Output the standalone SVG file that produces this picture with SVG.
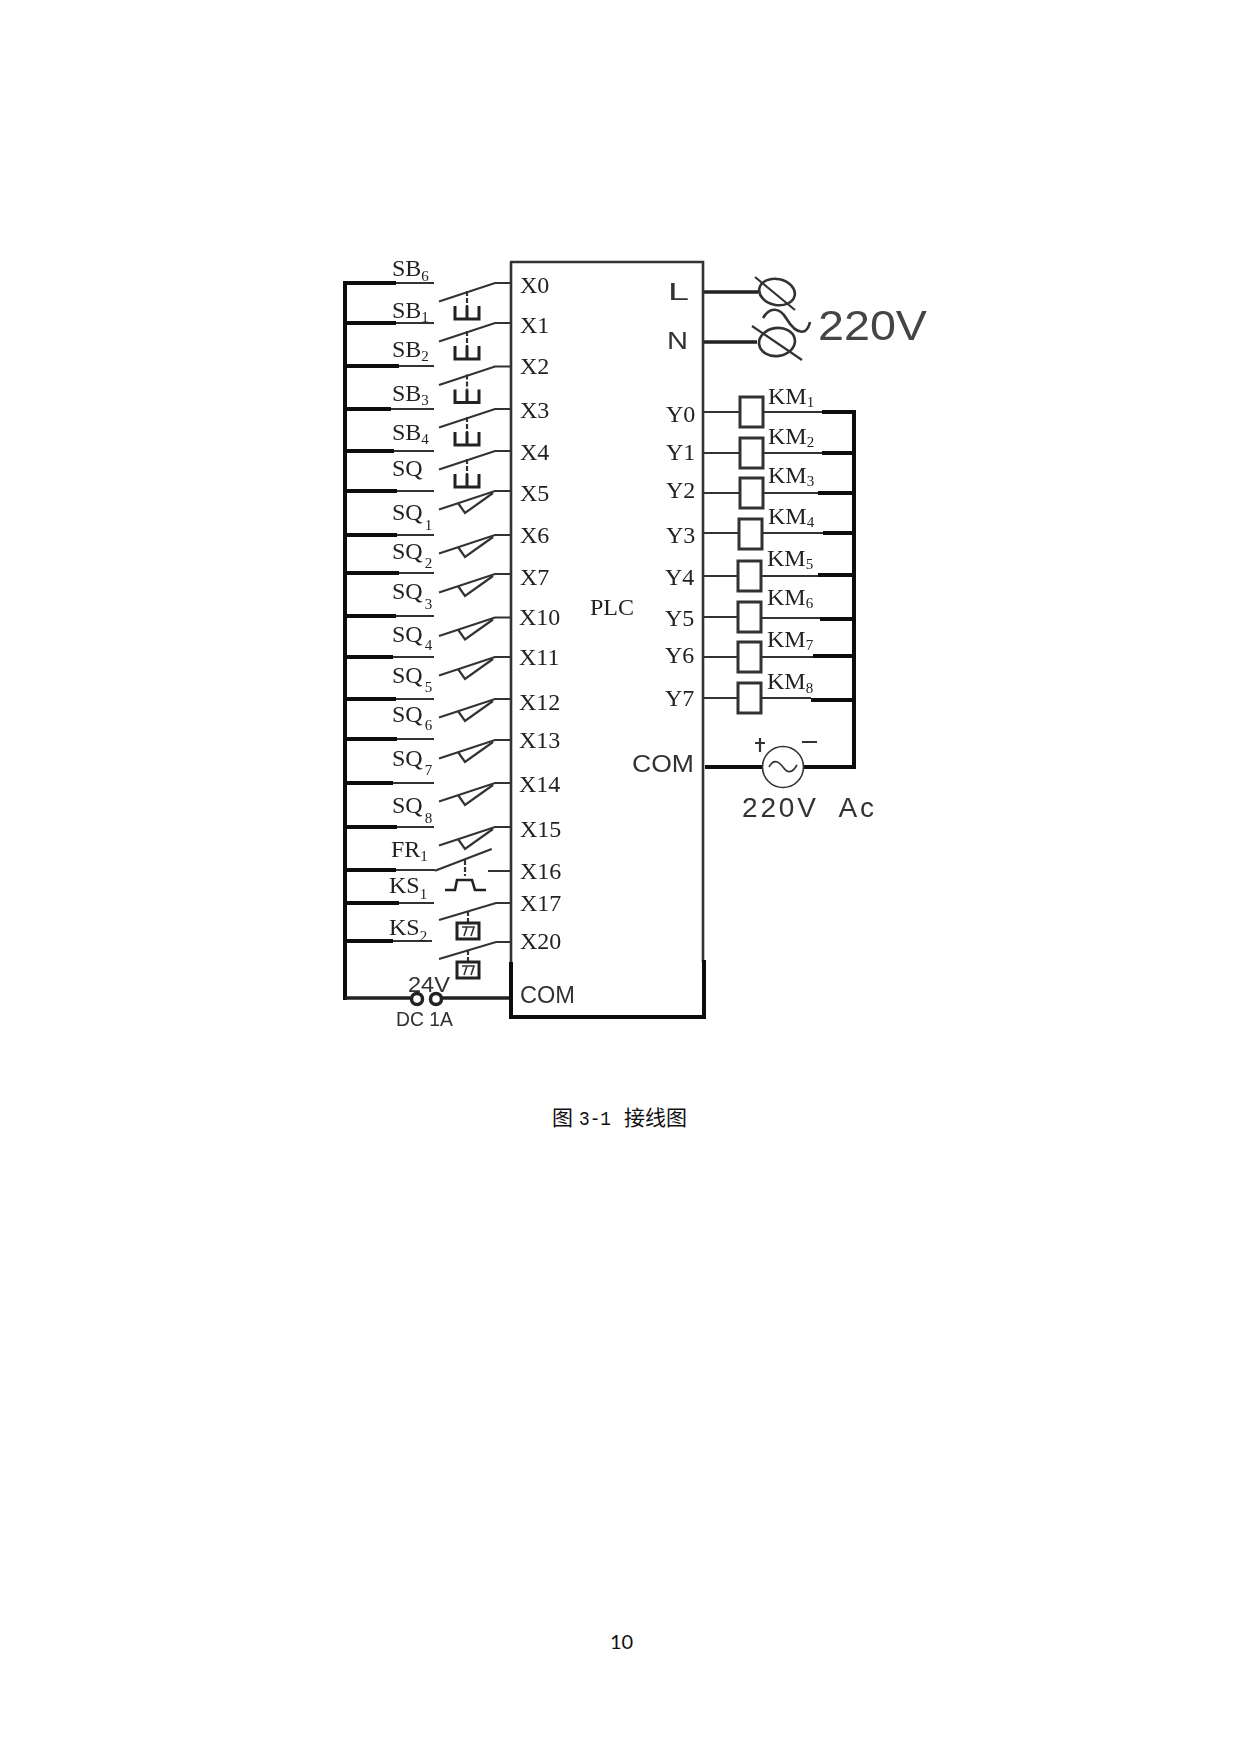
<svg xmlns="http://www.w3.org/2000/svg" width="1241" height="1754" viewBox="0 0 1241 1754">
<style>
text{fill:#222}
.t{font-family:"Liberation Serif","Times New Roman",serif;font-size:24px}
.h{font-family:"Liberation Sans",Arial,sans-serif;font-size:24px;fill:#333}
.u{font-size:15px}
.thin{fill:none;stroke:#333;stroke-width:2.2}
.bold{fill:none;stroke:#222;stroke-width:3}
.fine{fill:none;stroke:#333;stroke-width:1.6}
.thick{fill:none;stroke:#111;stroke-width:4}
.mid{fill:none;stroke:#222;stroke-width:3.4}
.coil{fill:#fff;stroke:#333;stroke-width:3}
.dash{stroke-dasharray:5 2}
</style>
<defs>
<filter id="soft" x="0" y="0" width="100%" height="100%"><feGaussianBlur stdDeviation="0.45"/></filter>
<g id="btn"><polyline class="thin" points="439,18.5 495,0 511,0"/><path class="thin dash" d="M467,8V23"/><path class="bold" d="M455,23V36H479V23M467,23V36"/></g>
<g id="sq"><polyline class="thin" points="439,18.5 495,0 511,0"/><polyline class="thin" points="458,12 465,22 493,2"/></g>
<g id="therm"><polyline class="thin" points="439,17 496,0 511,0"/><path class="thin dash" d="M468,8V19"/><rect class="bold" x="457" y="20" width="22" height="16"/><path class="fine" d="M462,24H474L471,33M467,24L464,33"/></g>
</defs>
<rect width="1241" height="1754" fill="#fff"/>
<g id="diagram" filter="url(#soft)">
<g id="connectors">
<path class="thick" d="M345,281V1000M343,283H396M345,323H396M345,366H399M345,409H391M345,451H394M345,491H397M345,535H397M345,573H399M345,616H396M345,657H393M345,699H396M345,739H397M345,783H393M345,827H397M345,870H396M345,903H399M345,941H393"/>
<path class="thin" d="M396,283H434M396,323H434M399,366H434M391,409H434M394,451H434M397,491H434M397,535H434M399,573H434M396,616H434M393,657H434M396,699H434M397,739H434M393,783H434M397,827H434M396,870H435M399,903H434M393,941H432"/>
<path class="mid" d="M345,998H411M442,998H511"/>
<path class="mid" d="M704,292H758M704,342H757"/>
<path class="thin" d="M704,412H740M704,453H740M703,493H740M703,533H739M702,576H738M702,617H738M702,657H738M702,698H738"/>
<path class="thin" d="M763,412H822M763,453H822M763,493H818M763,533H823M762,576H818M762,618H820M762,657H813M762,698H811"/>
<path class="thick" d="M822,412H854M822,453H854M818,493H854M823,533H854M818,575H854M820,619H854M813,656H854M811,700H854"/>
<path class="thick" d="M854,410V769M705,767H763M803,767H856"/>
</g>
<g id="plc">
<path class="thin" style="stroke-width:2.6" d="M510,262H703V962M511,262V964"/>
<path class="thick" d="M511,962V1017H704V960M509,1017H706"/>
<text class="t" x="590" y="615">PLC</text>
<text class="t" x="520" y="293">X0</text>
<text class="t" x="520" y="333">X1</text>
<text class="t" x="520" y="374">X2</text>
<text class="t" x="520" y="418">X3</text>
<text class="t" x="520" y="460">X4</text>
<text class="t" x="520" y="501">X5</text>
<text class="t" x="520" y="543">X6</text>
<text class="t" x="520" y="585">X7</text>
<text class="t" x="519" y="625">X10</text>
<text class="t" x="519" y="665">X11</text>
<text class="t" x="519" y="710">X12</text>
<text class="t" x="519" y="748">X13</text>
<text class="t" x="519" y="792">X14</text>
<text class="t" x="520" y="837">X15</text>
<text class="t" x="520" y="879">X16</text>
<text class="t" x="520" y="911">X17</text>
<text class="t" x="520" y="949">X20</text>
<text class="h" x="520" y="1003" textLength="55" lengthAdjust="spacingAndGlyphs">COM</text>
<text class="h" x="668" y="300" textLength="21" lengthAdjust="spacingAndGlyphs">L</text>
<text class="h" x="667" y="349" textLength="21" lengthAdjust="spacingAndGlyphs">N</text>
<text class="t" x="666" y="422">Y0</text>
<text class="t" x="666" y="460">Y1</text>
<text class="t" x="666" y="498">Y2</text>
<text class="t" x="666" y="543">Y3</text>
<text class="t" x="665" y="585">Y4</text>
<text class="t" x="665" y="626">Y5</text>
<text class="t" x="665" y="663">Y6</text>
<text class="t" x="665" y="706">Y7</text>
<text class="h" x="632" y="772" textLength="62" lengthAdjust="spacingAndGlyphs">COM</text>
</g>
<g id="sw0"><use href="#btn" y="283"/><text class="t" x="392" y="276">SB<tspan class="u" dy="5">6</tspan></text></g>
<g id="sw1"><use href="#btn" y="323"/><text class="t" x="392" y="318">SB<tspan class="u" dy="4">1</tspan></text></g>
<g id="sw2"><use href="#btn" y="366.5"/><text class="t" x="392" y="357">SB<tspan class="u" dy="4">2</tspan></text></g>
<g id="sw3"><use href="#btn" y="409"/><text class="t" x="392" y="401">SB<tspan class="u" dy="4">3</tspan></text></g>
<g id="sw4"><use href="#btn" y="451"/><text class="t" x="392" y="440">SB<tspan class="u" dy="4">4</tspan></text></g>
<g id="sw5"><use href="#sq" y="491"/><text class="t" x="392" y="476">SQ</text></g>
<g id="sw6"><use href="#sq" y="535"/><text class="t" x="392" y="520">SQ<tspan class="u" dx="2" dy="10">1</tspan></text></g>
<g id="sw7"><use href="#sq" y="574"/><text class="t" x="392" y="559">SQ<tspan class="u" dx="2" dy="9">2</tspan></text></g>
<g id="sw10"><use href="#sq" y="617.5"/><text class="t" x="392" y="599">SQ<tspan class="u" dx="2" dy="10">3</tspan></text></g>
<g id="sw11"><use href="#sq" y="657"/><text class="t" x="392" y="642">SQ<tspan class="u" dx="2" dy="8">4</tspan></text></g>
<g id="sw12"><use href="#sq" y="699"/><text class="t" x="392" y="683">SQ<tspan class="u" dx="2" dy="9">5</tspan></text></g>
<g id="sw13"><use href="#sq" y="740"/><text class="t" x="392" y="722">SQ<tspan class="u" dx="2" dy="8">6</tspan></text></g>
<g id="sw14"><use href="#sq" y="783"/><text class="t" x="392" y="766">SQ<tspan class="u" dx="2" dy="9">7</tspan></text></g>
<g id="sw15"><use href="#sq" y="827"/><text class="t" x="392" y="813">SQ<tspan class="u" dx="2" dy="10">8</tspan></text></g>
<g id="sw16"><path class="thin" d="M435,870.7L491.7,849M488,871H511"/><path class="thin dash" d="M465,860V876"/><polyline class="bold" style="stroke-width:2.6" points="445,890 455,890 457,880 472,880 475,890 486,890"/><text class="t" x="391" y="857">FR<tspan class="u" dy="4">1</tspan></text></g>
<g id="sw17"><use href="#therm" y="903"/><text class="t" x="389" y="893">KS<tspan class="u" dy="6">1</tspan></text></g>
<g id="sw20"><use href="#therm" y="942"/><text class="t" x="389" y="935">KS<tspan class="u" dy="6">2</tspan></text></g>
<g id="dc">
<text class="h" x="408" y="992" style="font-size:22px" textLength="42" lengthAdjust="spacingAndGlyphs">24V</text>
<circle cx="417" cy="999" r="5.5" fill="#fff" stroke="#222" stroke-width="3.5"/>
<circle cx="436" cy="999" r="5.5" fill="#fff" stroke="#222" stroke-width="3.5"/>
<text class="h" x="396" y="1026" style="font-size:21px" textLength="57" lengthAdjust="spacingAndGlyphs">DC 1A</text>
</g>
<g id="power">
<ellipse class="thin" style="stroke-width:2.6" cx="777" cy="292" rx="18" ry="13" transform="rotate(12 777 292)"/>
<path class="thin" d="M755,277L795,310"/>
<ellipse class="thin" style="stroke-width:2.6" cx="777" cy="342" rx="18" ry="14" transform="rotate(-8 777 342)"/>
<path class="thin" d="M752,326L802,360"/>
<path class="thin" style="stroke-width:2.6" d="M763,318C770,306 780,308 786,318C792,328 798,334 805,331C808,329 809,326 810,322"/>
<text x="818" y="340" style="font-family:'Liberation Sans',Arial,sans-serif;font-size:42px;fill:#444" textLength="109" lengthAdjust="spacingAndGlyphs">220V</text>
</g>
<g id="km1"><rect class="coil" x="740" y="397" width="23" height="30"/><text class="t" x="768" y="404">KM<tspan class="u" dy="3">1</tspan></text></g>
<g id="km2"><rect class="coil" x="740" y="438" width="23" height="30"/><text class="t" x="768" y="444">KM<tspan class="u" dy="3">2</tspan></text></g>
<g id="km3"><rect class="coil" x="740" y="478" width="23" height="30"/><text class="t" x="768" y="483">KM<tspan class="u" dy="3">3</tspan></text></g>
<g id="km4"><rect class="coil" x="739" y="519" width="23" height="30"/><text class="t" x="768" y="524">KM<tspan class="u" dy="3">4</tspan></text></g>
<g id="km5"><rect class="coil" x="738" y="561" width="23" height="30"/><text class="t" x="767" y="566">KM<tspan class="u" dy="3">5</tspan></text></g>
<g id="km6"><rect class="coil" x="738" y="602" width="23" height="30"/><text class="t" x="767" y="605">KM<tspan class="u" dy="3">6</tspan></text></g>
<g id="km7"><rect class="coil" x="738" y="642" width="23" height="30"/><text class="t" x="767" y="647">KM<tspan class="u" dy="3">7</tspan></text></g>
<g id="km8"><rect class="coil" x="738" y="683" width="23" height="30"/><text class="t" x="767" y="689">KM<tspan class="u" dy="4">8</tspan></text></g>
<g id="ac">
<circle cx="783" cy="767" r="20.5" fill="#fff" stroke="#333" stroke-width="1.6"/>
<path class="fine" d="M769,767C774,758 779,762 783,767C787,773 792,774 797,765"/>
<path class="thin" d="M755,743H765M760,738V752M802,742H817"/>
<text x="742" y="817" style="font-family:'Liberation Sans',Arial,sans-serif;font-size:28px;fill:#333" textLength="132" lengthAdjust="spacing" xml:space="preserve">220V  Ac</text>
</g>
</g>
<g id="caption">
<text x="552" y="1125" style="font-family:'Noto Sans CJK SC',sans-serif;font-size:21px;fill:#111">图</text>
<text x="579" y="1125" style="font-family:'Liberation Mono',monospace;font-size:20px;fill:#111" textLength="32" lengthAdjust="spacingAndGlyphs">3-1</text>
<text x="624" y="1125" style="font-family:'Noto Sans CJK SC',sans-serif;font-size:21px;fill:#111">接线图</text>
</g>
<text id="page" x="610" y="1649" style="font-family:Lato,sans-serif;font-size:20px;fill:#111">10</text>
</svg>
